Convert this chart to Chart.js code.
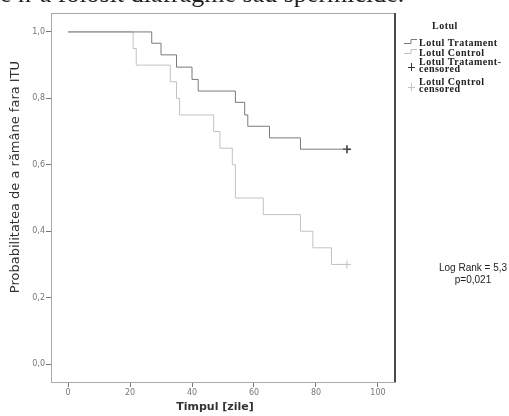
<!DOCTYPE html>
<html>
<head>
<meta charset="utf-8">
<script src="https://cdn.jsdelivr.net/npm/chart.js@4.4.1/dist/chart.umd.min.js"></script>
<style>
  html, body { margin: 0; padding: 0; background: #fff; }
  #wrap { position: relative; width: 509px; height: 416px; overflow: hidden; }
  #caption {
    position: absolute; left: 0; top: -21px; white-space: nowrap;
    font-family: "Liberation Serif", serif; font-size: 26px; color: #222;
  }
</style>
</head>
<body>
<div id="wrap">
  <canvas id="kmChart" width="509" height="416"></canvas>
  <div id="caption">e n-a folosit diafragme sau spermicide.</div>
</div>
<script>
// Kaplan-Meier steps (days, survival)
const treatDays = [0, 27, 30, 35, 40, 42, 54, 57, 58, 65, 75, 90];
const treatSurv = [1, 0.966, 0.931, 0.894, 0.857, 0.822, 0.788, 0.75, 0.716, 0.681, 0.647, 0.647];
const controlDays = [0, 21, 22, 33, 35, 36, 47, 49, 53, 54, 63, 75, 79, 85, 90];
const controlSurv = [1, 0.95, 0.9, 0.85, 0.8, 0.75, 0.7, 0.65, 0.6, 0.5, 0.45, 0.4, 0.35, 0.3, 0.3];

// censored cases
const treatCensDays = [90];
const treatCensSurv = [0.647];
const controlCensDays = [90];
const controlCensSurv = [0.3];

const xTicks = [0, 20, 40, 60, 80, 100];
const yTicks = [0, 0.2, 0.4, 0.6, 0.8, 1.0];
const yTickLabels = ['0,0', '0,2', '0,4', '0,6', '0,8', '1,0'];

const legendTitle = 'Lotul';
const legendLabels = [
  ['Lotul Tratament'],
  ['Lotul Control'],
  ['Lotul Tratament-', 'censored'],
  ['Lotul Control', 'censored']
];
const logRankText = ['Log Rank = 5,3', 'p=0,021'];
const yTitle = 'Probabilitatea de a rămâne fara ITU';
const xTitle = 'Timpul [zile]';

const darkGrey = '#7a7a7a';
const lightGrey = '#c2c2c2';

const toPoints = (xs, ys) => xs.map((x, i) => ({ x: x, y: ys[i] }));

// frame, legend and free texts
const decorations = {
  id: 'decorations',
  afterDraw(chart) {
    const ctx = chart.ctx;
    const a = chart.chartArea;
    ctx.save();
    // top and right edge of the plot frame
    ctx.strokeStyle = '#a8a8a8';
    ctx.lineWidth = 1;
    ctx.beginPath();
    ctx.moveTo(a.left, a.top + 0.5);
    ctx.lineTo(a.right, a.top + 0.5);
    ctx.stroke();
    ctx.strokeStyle = '#4a4a4a';
    ctx.lineWidth = 2;
    ctx.beginPath();
    ctx.moveTo(a.right, a.top);
    ctx.lineTo(a.right, a.bottom);
    ctx.stroke();

    // axis titles
    ctx.fillStyle = '#333';
    ctx.font = 'bold 11px "DejaVu Sans"';
    ctx.textAlign = 'center';
    ctx.textBaseline = 'middle';
    ctx.fillText(xTitle, 215, 407);
    ctx.font = '13px "DejaVu Sans"';
    ctx.save();
    ctx.translate(16, 177);
    ctx.rotate(-Math.PI / 2);
    ctx.fillText(yTitle, 0, 0);
    ctx.restore();

    // log rank result
    ctx.font = '10px "Liberation Sans"';
    ctx.fillStyle = '#222';
    ctx.fillText(logRankText[0], 473, 268);
    ctx.fillText(logRankText[1], 473, 280);

    // legend
    ctx.textAlign = 'left';
    ctx.textBaseline = 'alphabetic';
    ctx.font = 'bold 10px "Liberation Serif"';
    ctx.letterSpacing = '0.5px';
    ctx.fillStyle = '#222';
    ctx.fillText(legendTitle, 432, 29);
    const rows = [[46], [56], [65, 72], [85, 92]];
    legendLabels.forEach((lines, i) => {
      lines.forEach((t, j) => ctx.fillText(t, 419, rows[i][j]));
    });
    ctx.letterSpacing = '0px';
    const ds = chart.data.datasets;
    ctx.lineWidth = 1;
    // step symbols
    [0, 1].forEach(i => {
      const y = rows[i][0] - 3;
      ctx.strokeStyle = ds[i].borderColor;
      ctx.beginPath();
      ctx.moveTo(404, y + 0.5);
      ctx.lineTo(411, y + 0.5);
      ctx.lineTo(411, y - 3.5);
      ctx.lineTo(417, y - 3.5);
      ctx.stroke();
    });
    // censor symbols
    [2, 3].forEach(i => {
      const y = rows[i][0] + 2;
      ctx.strokeStyle = ds[i].borderColor;
      ctx.beginPath();
      ctx.moveTo(411.5, y - 4);
      ctx.lineTo(411.5, y + 4);
      ctx.moveTo(408, y + 0.5);
      ctx.lineTo(415, y + 0.5);
      ctx.stroke();
    });
    ctx.restore();
  }
};

new Chart(document.getElementById('kmChart'), {
  type: 'line',
  data: {
    datasets: [
      {
        label: legendLabels[0].join(' '),
        data: toPoints(treatDays, treatSurv),
        stepped: true,
        borderColor: darkGrey,
        borderWidth: 1,
        pointRadius: 0,
        fill: false
      },
      {
        label: legendLabels[1].join(' '),
        data: toPoints(controlDays, controlSurv),
        stepped: true,
        borderColor: lightGrey,
        borderWidth: 1,
        pointRadius: 0,
        fill: false
      },
      {
        label: legendLabels[2].join(' '),
        data: toPoints(treatCensDays, treatCensSurv),
        showLine: false,
        pointStyle: 'cross',
        pointRadius: 4,
        borderColor: '#333',
        borderWidth: 1.5
      },
      {
        label: legendLabels[3].join(' '),
        data: toPoints(controlCensDays, controlCensSurv),
        showLine: false,
        pointStyle: 'cross',
        pointRadius: 4,
        borderColor: lightGrey,
        borderWidth: 1
      }
    ]
  },
  options: {
    responsive: false,
    animation: false,
    layout: { padding: { left: 0, right: 114, top: 13, bottom: 0 } },
    plugins: {
      legend: { display: false },
      tooltip: { enabled: false }
    },
    scales: {
      x: {
        type: 'linear',
        min: -5.5,
        max: 105.5,
        afterBuildTicks: (scale) => { scale.ticks = xTicks.map(v => ({ value: v })); },
        afterFit: (scale) => { scale.height = 34; },
        grid: { drawOnChartArea: false, drawTicks: true, tickLength: 5, color: '#777' },
        border: { display: true, color: '#aaa', dash: [2, 1] },
        ticks: { font: { size: 8, family: '"DejaVu Sans"' }, color: '#777', padding: 1, maxRotation: 0 }
      },
      y: {
        type: 'linear',
        min: -0.054,
        max: 1.057,
        afterBuildTicks: (scale) => { scale.ticks = yTicks.map(v => ({ value: v })); },
        afterFit: (scale) => { scale.width = 51; },
        grid: { drawOnChartArea: false, drawTicks: true, tickLength: 5, color: '#777' },
        border: { display: true, color: '#aaa', dash: [2, 1] },
        ticks: {
          font: { size: 8, family: '"DejaVu Sans"' },
          color: '#777',
          padding: 1,
          callback: (v) => yTickLabels[yTicks.indexOf(v)]
        }
      }
    }
  },
  plugins: [decorations]
});
</script>
</body>
</html>
